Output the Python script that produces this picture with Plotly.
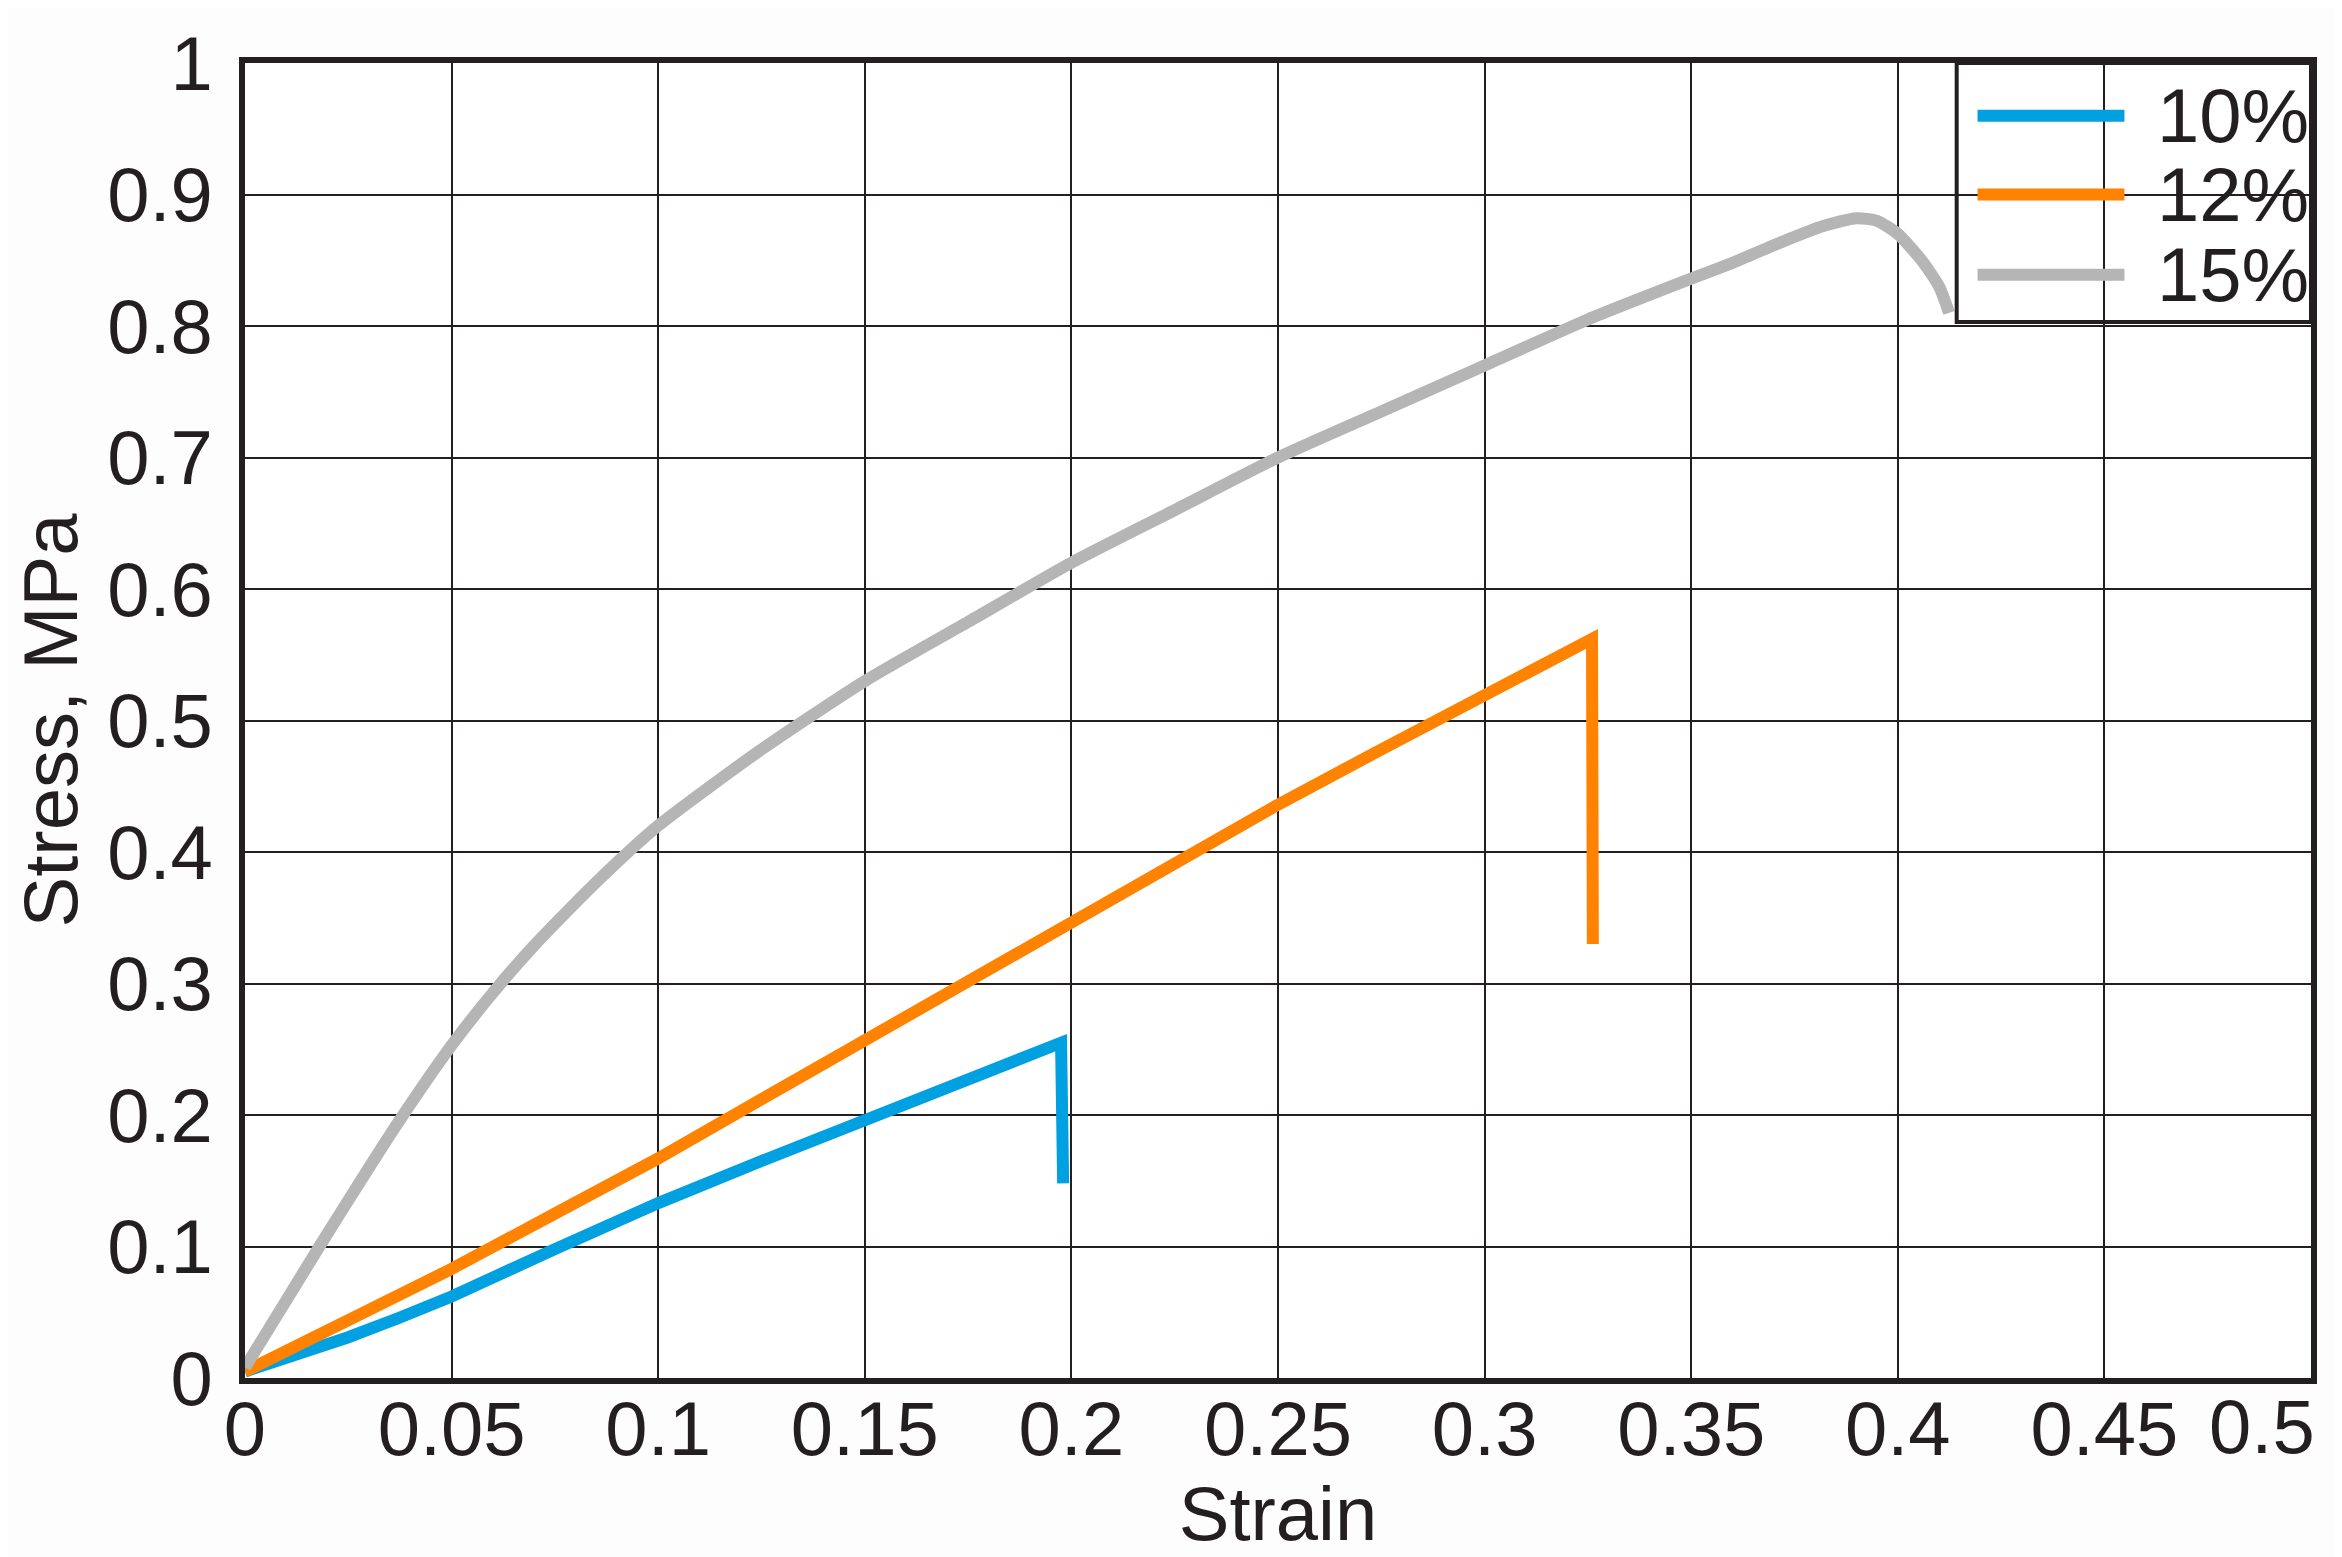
import plotly.graph_objects as go

INK = "#231f20"
FONT = "Liberation Sans, Arial, sans-serif"

series_names = ["10%", "12%", "15%"]
series_colors = ["#00a0e1", "#ff8200", "#b4b5b4"]

strain_10 = [0.0, 0.0125, 0.025, 0.0375, 0.05, 0.075, 0.1, 0.125, 0.15, 0.175, 0.1975, 0.198]
stress_10 = [0.005, 0.017, 0.031, 0.046, 0.062, 0.098, 0.133, 0.165, 0.196, 0.227, 0.255, 0.148]

strain_12 = [0.0, 0.025, 0.05, 0.075, 0.1, 0.125, 0.15, 0.175, 0.2, 0.225,
             0.25, 0.275, 0.3, 0.326, 0.3262]
stress_12 = [0.005, 0.043, 0.083, 0.125, 0.167, 0.212, 0.257, 0.302, 0.347, 0.392,
             0.436, 0.478, 0.52, 0.562, 0.33]

strain_15 = [0.0, 0.018, 0.028, 0.037, 0.05, 0.06, 0.07, 0.085, 0.1,
             0.125, 0.15, 0.175, 0.2, 0.225, 0.25, 0.275, 0.3, 0.325, 0.35,
             0.36, 0.372, 0.382, 0.39, 0.395, 0.4, 0.406, 0.41, 0.4124]
stress_15 = [0.008, 0.1, 0.15, 0.194, 0.253, 0.293, 0.329, 0.377, 0.42,
             0.478, 0.53, 0.575, 0.62, 0.66, 0.70, 0.735, 0.77, 0.805, 0.836,
             0.848, 0.864, 0.876, 0.882, 0.88, 0.87, 0.849, 0.83, 0.81]

x_ticks = [0, 0.05, 0.1, 0.15, 0.2, 0.25, 0.3, 0.35, 0.4, 0.45, 0.5]
x_tick_text = ["0", "0.05", "0.1", "0.15", "0.2", "0.25", "0.3", "0.35", "0.4", "0.45", "0.5"]
y_ticks = [0, 0.1, 0.2, 0.3, 0.4, 0.5, 0.6, 0.7, 0.8, 0.9, 1]
y_tick_text = ["0", "0.1", "0.2", "0.3", "0.4", "0.5", "0.6", "0.7", "0.8", "0.9", "1"]

curves = [(strain_10, stress_10), (strain_12, stress_12), (strain_15, stress_15)]
shapes = ["linear", "linear", "spline"]

fig = go.Figure()

for (xs, ys), name, color, shp in zip(curves, series_names, series_colors, shapes):
    fig.add_trace(
        go.Scatter(
            x=xs,
            y=ys,
            mode="lines",
            name=name,
            line=dict(color=color, width=12, shape=shp, smoothing=0.6),
            showlegend=False,
        )
    )

# hand-drawn legend box (plotly's legend swatch is too short)
LEG_X0, LEG_Y0 = 0.8285, 0.803
row_y = [0.9598, 0.900, 0.839]
fig.add_shape(
    type="rect", xref="paper", yref="paper",
    x0=LEG_X0, x1=1.0, y0=LEG_Y0, y1=1.0,
    line=dict(color=INK, width=4), fillcolor="rgba(0,0,0,0)",
)
for name, color, yy in zip(series_names, series_colors, row_y):
    fig.add_shape(
        type="line", xref="paper", yref="paper",
        x0=0.8386, x1=0.9097, y0=yy, y1=yy,
        line=dict(color=color, width=12),
    )
    fig.add_annotation(
        xref="paper", yref="paper", x=0.9245, y=yy,
        text=name, showarrow=False, xanchor="left", yanchor="middle",
        font=dict(family=FONT, size=76, color=INK),
    )

# last x label sits flush with the right frame instead of centred on it
fig.add_annotation(
    xref="x", yref="paper", x=x_ticks[-1], y=0,
    text=x_tick_text[-1], showarrow=False, xanchor="right", yanchor="top",
    xshift=6, yshift=-4,
    font=dict(family=FONT, size=76, color=INK),
)

fig.update_layout(
    width=2342,
    height=1557,
    paper_bgcolor="#fdfdfd",
    plot_bgcolor="#ffffff",
    margin=dict(l=237, r=39, t=55, b=187),
    font=dict(family=FONT, size=76, color=INK),
    showlegend=False,
)

fig.update_xaxes(
    range=[0, 0.5],
    tickvals=x_ticks,
    ticktext=x_tick_text[:-1] + [""],
    showgrid=True,
    gridcolor=INK,
    gridwidth=2,
    zeroline=False,
    showline=True,
    linecolor=INK,
    linewidth=6,
    mirror=True,
    ticks="",
    ticklabelstandoff=-20,
    title=dict(text="Strain", standoff=0, font=dict(size=76)),
)
fig.update_yaxes(
    range=[0, 1],
    tickvals=y_ticks,
    ticktext=y_tick_text,
    showgrid=True,
    gridcolor=INK,
    gridwidth=2,
    zeroline=False,
    showline=True,
    linecolor=INK,
    linewidth=6,
    mirror=True,
    ticks="",
    ticklabelstandoff=11,
    title=dict(text="Stress, MPa", standoff=20, font=dict(size=76)),
)

fig.write_html("out.html")
